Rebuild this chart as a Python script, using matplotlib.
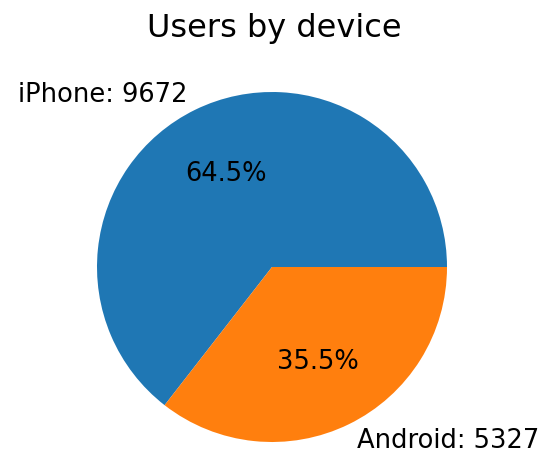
import matplotlib.pyplot as plt

# data
devices = ['iPhone', 'Android']
users = [9672, 5327]
colors = ['#1f77b4', '#ff7f0e']

labels = [f'{d}: {u}' for d, u in zip(devices, users)]

fig = plt.figure(figsize=(5.47, 4.52), dpi=100)
# square axes just around the pie (radius 175 px, center at 272, 270)
ax = fig.add_axes([97 / 547, 9 / 452, 350 / 547, 350 / 452])

wedges, texts, autotexts = ax.pie(users, labels=labels, colors=colors,
                                  autopct='%1.1f%%', textprops={'fontsize': 18.5})
ax.set_xlim(-1, 1)
ax.set_ylim(-1, 1)
ax.set_aspect('equal')
for t in texts + autotexts:
    t.set_clip_on(False)

fig.text(274 / 547, 1 - 28 / 452, 'Users by device', ha='center', va='center', fontsize=23)

plt.savefig('out.png', dpi=100)
